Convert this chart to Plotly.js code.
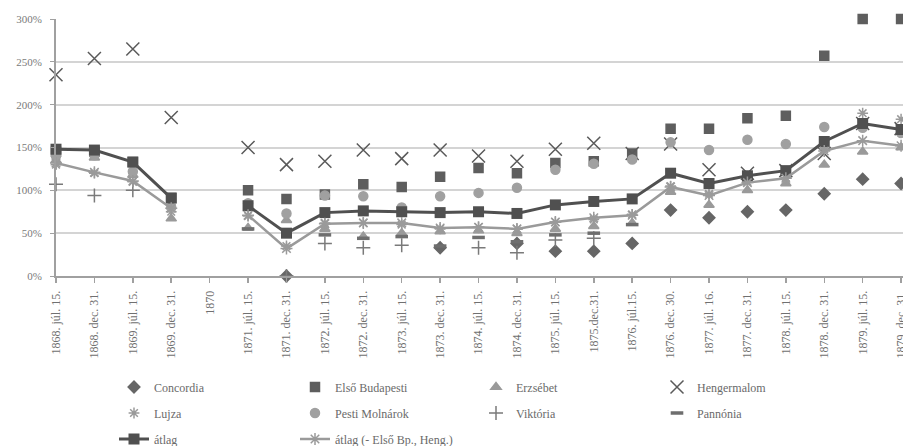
<!DOCTYPE html>
<html>
<head>
<meta charset="utf-8">
<script src="https://cdn.plot.ly/plotly-3.0.1.min.js"></script>
<style>html,body{margin:0;padding:0;background:#fff;}#chart{width:903px;height:446px;}</style>
</head>
<body>
<div id="chart"></div>
<script>
const categories = ["1868. júl. 15.","1868. dec. 31.","1869. júl. 15.","1869. dec. 31.","1870","1871. júl. 15.","1871. dec. 31.","1872. júl. 15.","1872. dec. 31.","1873. júl. 15.","1873. dec. 31.","1874. júl. 15.","1874. dec. 31.","1875. júl. 15.","1875.dec.31.","1876. júl.15.","1876. dec. 30.","1877. júl. 16.","1877. dec. 31.","1878. júl. 15.","1878. dec. 31.","1879. júl. 15.","1879. dec. 31."];
const concordia   = [null,null,null,null,null,null,0,null,null,null,33,null,38,29,29,38,77,68,75,77,96,113,108];
const elsoBudapesti = [145,145,133,91,null,100,90,95,107,104,116,126,120,132,134,143,172,172,184,187,257,300,300];
const erzsebet    = [135,138,118,67,null,56,65,55,46,50,52,53,50,55,58,62,98,83,100,108,130,145,150];
const hengermalom = [235,254,265,185,null,150,130,134,147,137,147,140,134,148,155,143,154,124,120,123,143,178,172];
const lujza       = [130,120,110,75,null,70,35,62,62,60,55,57,55,63,66,72,105,96,110,115,148,190,183];
const pestiMolnarok = [140,141,122,80,null,85,73,94,93,80,93,97,103,124,131,136,156,147,159,154,174,173,167];
const viktoria    = [107,94,100,null,null,null,0,38,33,36,null,33,27,42,44,null,null,null,null,null,null,null,null];
const pannonia    = [null,null,null,null,null,55,null,48,44,46,35,45,40,48,50,60,null,null,null,null,null,null,null];
const atlag       = [148,147,133,91,null,82,50,74,76,75,74,75,73,83,87,90,120,108,117,123,157,178,171];
const atlag2      = [132,121,111,79,null,71,32,61,62,62,56,57,55,63,68,71,104,94,109,114,146,158,152];

const FONT = "Liberation Serif, Times New Roman, serif";
function pts(name, y, symbol, color, size, legend, lw) {
  return {
    type: "scatter", mode: "markers", name: name, x: categories, y: y,
    legend: legend, cliponaxis: false,
    marker: {symbol: symbol, color: color, size: size, line: {color: color, width: lw || 1.5}}
  };
}
const traces = [
  pts("Concordia", concordia, "diamond", "#666666", 9, "legend"),
  pts("Első Budapesti", elsoBudapesti, "square", "#5e5e5e", 9, "legend"),
  pts("Erzsébet", erzsebet, "triangle-up", "#9a9a9a", 9, "legend"),
  pts("Hengermalom", hengermalom, "x-thin-open", "#5a5a5a", 13, "legend"),
  pts("Lujza", lujza, "asterisk-open", "#9a9a9a", 9, "legend2"),
  pts("Pesti Molnárok", pestiMolnarok, "circle", "#a0a0a0", 9, "legend2"),
  pts("Viktória", viktoria, "cross-thin-open", "#7a7a7a", 10, "legend2"),
  pts("Pannónia", pannonia, "line-ew-open", "#6e6e6e", 9, "legend2", 3.5),
  {type: "scatter", mode: "lines+markers", name: "átlag", x: categories, y: atlag, legend: "legend3", cliponaxis: false,
   line: {color: "#505050", width: 3}, marker: {symbol: "square", size: 11, color: "#505050"}},
  {type: "scatter", mode: "lines+markers", name: "átlag (- Első Bp., Heng.)", x: categories, y: atlag2, legend: "legend3", cliponaxis: false,
   line: {color: "#9a9a9a", width: 2.5}, marker: {symbol: "asterisk-open", size: 10, color: "#9a9a9a", line: {color: "#8a8a8a", width: 1.5}}}
];
const legFont = {family: FONT, size: 12, color: "#6a6a6a"};
function leg(y) {
  return {orientation: "h", xref: "container", yref: "container", x: 114/903, xanchor: "left",
          y: y, yanchor: "middle", entrywidth: 136, entrywidthmode: "pixels",
          font: legFont, bgcolor: "rgba(0,0,0,0)", traceorder: "normal"};
}
const layout = {
  width: 903, height: 446,
  margin: {l: 56, r: 0, t: 19, b: 170, autoexpand: false},
  paper_bgcolor: "#ffffff", plot_bgcolor: "#ffffff",
  font: {family: FONT, size: 12, color: "#6a6a6a"},
  showlegend: true,
  legend: leg((446-387)/446),
  legend2: leg((446-413)/446),
  legend3: leg((446-439)/446),
  xaxis: {
    type: "category", range: [0, 22.05], categoryorder: "array", categoryarray: categories,
    showgrid: false, showline: true, linecolor: "#a0a0a0", linewidth: 2,
    ticks: "outside", ticklen: 5, tickcolor: "#a0a0a0", tickwidth: 1.5,
    tickangle: -90, ticklabelstandoff: 3,
    tickfont: {family: FONT, size: 12, color: "#707070"}, zeroline: false
  },
  yaxis: {
    range: [0, 300], tickmode: "linear", tick0: 0, dtick: 50, ticksuffix: "%",
    showgrid: true, gridcolor: "#d4d4d4", gridwidth: 2,
    showline: true, linecolor: "#a0a0a0", linewidth: 2,
    ticks: "outside", ticklen: 4, tickcolor: "#a0a0a0", ticklabelstandoff: 6,
    tickfont: {family: FONT, size: 11, color: "#7a7a7a"}, zeroline: false
  }
};
Plotly.newPlot("chart", traces, layout, {staticPlot: true});
</script>
</body>
</html>
